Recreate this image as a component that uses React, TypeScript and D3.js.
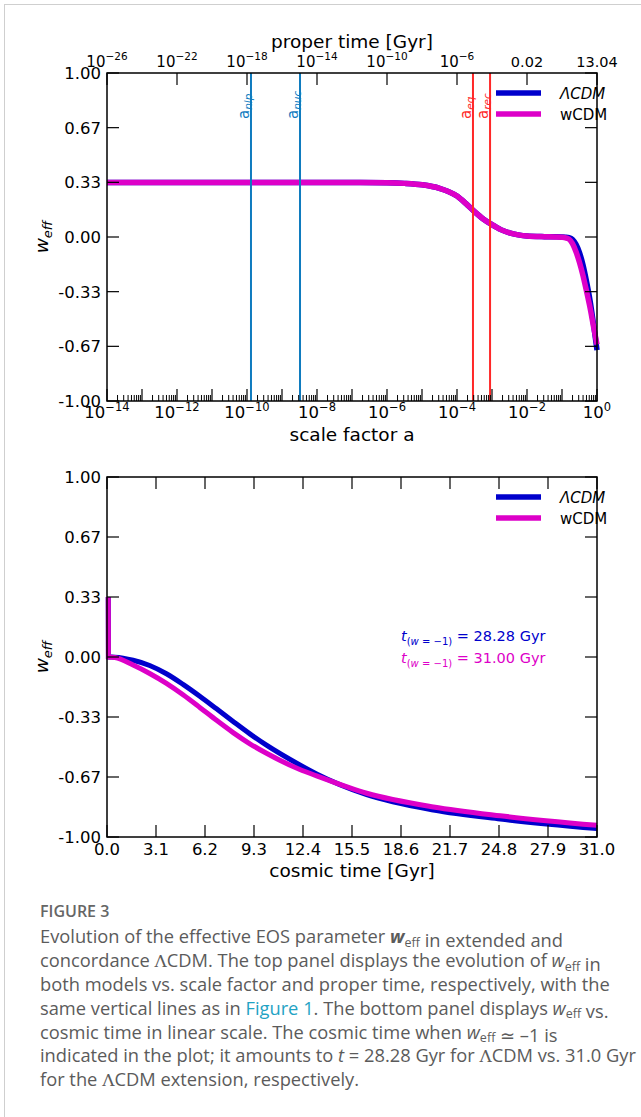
import React from "react";
import * as d3 from "d3";

// ---------------- data ----------------
// top panel: log10(scale factor) vs w_eff
const logA = [-14, -10, -7, -6, -5.5, -5, -4.5, -4.25, -4, -3.75, -3.5, -3.25, -3, -2.75, -2.5, -2.25, -2, -1.5, -1.2, -1, -0.9, -0.8, -0.7, -0.6, -0.5, -0.4, -0.3, -0.2, -0.1, 0];
const wLcdmA = [0.333, 0.333, 0.333, 0.331, 0.327, 0.318, 0.297, 0.278, 0.25, 0.205, 0.155, 0.11, 0.075, 0.045, 0.025, 0.013, 0.006, 0.002, 0.001, 0.0, -0.001, -0.004, -0.015, -0.045, -0.095, -0.17, -0.27, -0.385, -0.53, -0.69];
const wWcdmA = [0.333, 0.333, 0.333, 0.331, 0.327, 0.318, 0.297, 0.278, 0.25, 0.205, 0.155, 0.11, 0.075, 0.045, 0.025, 0.013, 0.006, 0.002, 0.0, -0.002, -0.005, -0.013, -0.04, -0.09, -0.155, -0.235, -0.33, -0.43, -0.545, -0.655];

// bottom panel: cosmic time [Gyr] vs w_eff
const tGyr = [0.08, 0.09, 0.5, 1.65, 2.7, 3.76, 4.81, 5.87, 6.93, 7.98, 9.04, 10.09, 12.2, 13.26, 16.43, 20.65, 24.88, 31.0];
const wLcdmT = [0.333, 0.0, -0.001, -0.018, -0.047, -0.093, -0.152, -0.218, -0.288, -0.358, -0.427, -0.49, -0.6, -0.65, -0.765, -0.85, -0.9, -0.953];
const wWcdmT = [0.333, 0.0, -0.003, -0.045, -0.092, -0.147, -0.21, -0.28, -0.352, -0.42, -0.482, -0.535, -0.625, -0.66, -0.757, -0.833, -0.882, -0.935];

// ticks
const yTickValues = [1, 2 / 3, 1 / 3, 0, -1 / 3, -2 / 3, -1];
const yTickLabels = ["1.00", "0.67", "0.33", "0.00", "-0.33", "-0.67", "-1.00"];
const aLabelExps = [-14, -12, -10, -8, -6, -4, -2, 0];
const aLabelTexts = ["\u221214", "\u221212", "\u221210", "\u22128", "\u22126", "\u22124", "\u22122", "0"];
const properTimeBase = ["10", "10", "10", "10", "10", "10", "0.02", "13.04"];
const properTimeExp = ["\u221226", "\u221222", "\u221218", "\u221214", "\u221210", "\u22126", "", ""];
const tTickValues = [0, 3.1, 6.2, 9.3, 12.4, 15.5, 18.6, 21.7, 24.8, 27.9, 31.0];
const tTickLabels = ["0.0", "3.1", "6.2", "9.3", "12.4", "15.5", "18.6", "21.7", "24.8", "27.9", "31.0"];

// vertical reference lines (scale factor)
const vLineNames = ["nlp", "nuc", "eq", "rec"];
const vLineA = [1.3e-10, 3.27e-9, 2.86e-4, 8.8e-4];
const vLineColors = ["#0f7bbf", "#0f7bbf", "#ff2828", "#ff2828"];

const seriesNames = ["\u039BCDM", "wCDM"];
const seriesColors = ["#0000cc", "#dd00c8"];
const annotTexts = ["28.28", "31.00"];

// ---------------- layout ----------------
const W = 641;
const H = 1117;
const X0 = 107;
const X1 = 597;
const TOP = { y0: 73, y1: 401 };
const BOT = { y0: 477, y1: 837 };
const FONT = "DejaVu Sans, sans-serif";
const TICK_FS = 16.5;
const EXP_FS = 11.5;

function YAxes({ y, major }: { y: d3.ScaleLinear<number, number>; major: number }) {
  return (
    <g>
      {yTickValues.map((v, i) => (
        <g key={i}>
          <line x1={X0} x2={X0 + major} y1={y(v)} y2={y(v)} stroke="#000" strokeWidth={1.2} />
          <line x1={X1} x2={X1 - major} y1={y(v)} y2={y(v)} stroke="#000" strokeWidth={1.2} />
          <text x={X0 - 6} y={y(v)} dy="0.36em" textAnchor="end" fontFamily={FONT} fontSize={TICK_FS}>
            {yTickLabels[i]}
          </text>
        </g>
      ))}
    </g>
  );
}

function WLabel({ cy }: { cy: number }) {
  return (
    <text transform={`translate(48,${cy}) rotate(-90)`} textAnchor="middle" fontFamily={FONT} fontSize={18.5} fontStyle="italic">
      w<tspan fontSize={13} dy={4}>eff</tspan>
    </text>
  );
}

export default function App() {
  const xA = d3.scaleLog().domain([1e-14, 1]).range([X0, X1]);
  const yTop = d3.scaleLinear().domain([-1, 1]).range([TOP.y1, TOP.y0]);
  const xT = d3.scaleLinear().domain([0, 31]).range([X0, X1]);
  const yBot = d3.scaleLinear().domain([-1, 1]).range([BOT.y1, BOT.y0]);

  const lineTop = d3
    .line<[number, number]>()
    .x((d) => xA(Math.pow(10, d[0])))
    .y((d) => yTop(d[1]))
    .curve(d3.curveMonotoneX);
  const lineBot = d3
    .line<[number, number]>()
    .x((d) => xT(d[0]))
    .y((d) => yBot(d[1]))
    .curve(d3.curveMonotoneX);

  const topSeries = [wLcdmA, wWcdmA].map((ws) => logA.map((a, i) => [a, ws[i]] as [number, number]));
  const botSeries = [wLcdmT, wWcdmT].map((ws) => tGyr.map((t, i) => [t, ws[i]] as [number, number]));

  // minor log ticks
  const minorTicks: number[] = [];
  for (let e = -14; e < 0; e++) {
    for (let k = 2; k <= 9; k++) minorTicks.push(k * Math.pow(10, e));
  }
  const decadeTicks = d3.range(-14, 1).map((e) => Math.pow(10, e));

  const capFS = 18.3;
  const capColor = "#5b5b5b";
  const capFont = "'Open Sans', Lato, sans-serif";
  const capX = 40;
  const capY = [943, 967, 991, 1014.5, 1038.5, 1062, 1086];
  const Weff = ({ bold }: { bold?: boolean }) => (
    <>
      <tspan fontStyle="italic" fontWeight={bold ? 700 : 400}>w</tspan>
      <tspan fontSize={12.5} dy={3.5}>eff</tspan>
      <tspan dy={-3.5}></tspan>
    </>
  );
  const Lam = () => (
    <tspan fontFamily="'DejaVu Serif', serif" fontSize={17}>Λ</tspan>
  );

  return (
    <svg width={W} height={H} style={{ position: "absolute", left: 0, top: 0, background: "#fff" }}>
      <rect x={0} y={0} width={W} height={H} fill="#fff" />
      <rect x={4.5} y={4.5} width={W + 20} height={H + 20} fill="none" stroke="#cfcfcf" strokeWidth={1} />

      {/* ================= TOP PANEL ================= */}
      <g>
        {topSeries.map((s, i) => (
          <path key={i} d={lineTop(s) || ""} fill="none" stroke={seriesColors[i]} strokeWidth={5.5} />
        ))}
        {vLineA.map((a, i) => (
          <g key={i}>
            <line x1={xA(a)} x2={xA(a)} y1={TOP.y0} y2={TOP.y1} stroke={vLineColors[i]} strokeWidth={2} />
            <text
              transform={`translate(${xA(a) - 2},119) rotate(-90)`}
              fontFamily={FONT}
              fontSize={15}
              fill={vLineColors[i]}
            >
              a<tspan fontSize={10.5} fontStyle="italic" dy={3}>{vLineNames[i]}</tspan>
            </text>
          </g>
        ))}
        <rect x={X0} y={TOP.y0} width={X1 - X0} height={TOP.y1 - TOP.y0} fill="none" stroke="#000" strokeWidth={1.5} />
        <YAxes y={yTop} major={12} />
        {/* bottom log ticks */}
        {decadeTicks.map((v, i) => (
          <line key={"d" + i} x1={xA(v)} x2={xA(v)} y1={TOP.y1} y2={TOP.y1 - 12} stroke="#000" strokeWidth={1.2} />
        ))}
        {minorTicks.map((v, i) => (
          <line key={"m" + i} x1={xA(v)} x2={xA(v)} y1={TOP.y1} y2={TOP.y1 - 6} stroke="#000" strokeWidth={1} />
        ))}
        {aLabelExps.map((e, i) => (
          <text key={i} x={xA(Math.pow(10, e))} y={418} textAnchor="middle" fontFamily={FONT} fontSize={TICK_FS}>
            10<tspan fontSize={EXP_FS} dy={-7}>{aLabelTexts[i]}</tspan>
          </text>
        ))}
        <text x={(X0 + X1) / 2} y={441} textAnchor="middle" fontFamily={FONT} fontSize={18.5}>
          scale factor a
        </text>
        {/* top axis: proper time */}
        {aLabelExps.map((e, i) => (
          <g key={i}>
            <line x1={xA(Math.pow(10, e))} x2={xA(Math.pow(10, e))} y1={TOP.y0} y2={TOP.y0 + 12} stroke="#000" strokeWidth={1.2} />
            <text x={xA(Math.pow(10, e))} y={67} textAnchor="middle" fontFamily={FONT} fontSize={properTimeExp[i] ? 15 : 14.5}>
              {properTimeBase[i]}
              {properTimeExp[i] ? (
                <tspan fontSize={10.5} dy={-7}>{properTimeExp[i]}</tspan>
              ) : null}
            </text>
          </g>
        ))}
        <text x={(X0 + X1) / 2} y={48} textAnchor="middle" fontFamily={FONT} fontSize={18.5}>
          proper time [Gyr]
        </text>
        <WLabel cy={(TOP.y0 + TOP.y1) / 2} />
        {/* legend */}
        {seriesNames.map((n, i) => (
          <g key={i}>
            <line x1={496} x2={541} y1={93 + i * 21} y2={93 + i * 21} stroke={seriesColors[i]} strokeWidth={5.5} />
            <text x={560} y={98.5 + i * 21} fontFamily={FONT} fontSize={15} fontStyle={i === 0 ? "italic" : "normal"}>
              {n}
            </text>
          </g>
        ))}
      </g>

      {/* ================= BOTTOM PANEL ================= */}
      <g>
        {botSeries.map((s, i) => (
          <path key={i} d={lineBot(s) || ""} fill="none" stroke={seriesColors[i]} strokeWidth={5} />
        ))}
        <rect x={X0} y={BOT.y0} width={X1 - X0} height={BOT.y1 - BOT.y0} fill="none" stroke="#000" strokeWidth={1.5} />
        <YAxes y={yBot} major={12} />
        {tTickValues.map((v, i) => (
          <g key={i}>
            <line x1={xT(v)} x2={xT(v)} y1={BOT.y1} y2={BOT.y1 - 12} stroke="#000" strokeWidth={1.2} />
            <line x1={xT(v)} x2={xT(v)} y1={BOT.y0} y2={BOT.y0 + 12} stroke="#000" strokeWidth={1.2} />
            <text x={xT(v)} y={855} textAnchor="middle" fontFamily={FONT} fontSize={TICK_FS}>
              {tTickLabels[i]}
            </text>
          </g>
        ))}
        <text x={(X0 + X1) / 2} y={877} textAnchor="middle" fontFamily={FONT} fontSize={18.5}>
          cosmic time [Gyr]
        </text>
        <WLabel cy={(BOT.y0 + BOT.y1) / 2} />
        {seriesNames.map((n, i) => (
          <g key={i}>
            <line x1={496} x2={541} y1={497 + i * 21} y2={497 + i * 21} stroke={seriesColors[i]} strokeWidth={5.5} />
            <text x={560} y={502.5 + i * 21} fontFamily={FONT} fontSize={15} fontStyle={i === 0 ? "italic" : "normal"}>
              {n}
            </text>
          </g>
        ))}
        {annotTexts.map((t, i) => (
          <text key={i} x={401} y={641 + i * 22} fontFamily={FONT} fontSize={14.5} fill={seriesColors[i]}>
            <tspan fontStyle="italic">t</tspan>
            <tspan fontSize={10} dy={4}>(</tspan>
            <tspan fontSize={10} fontStyle="italic">w</tspan>
            <tspan fontSize={10}>{" = \u22121)"}</tspan>
            <tspan dy={-4}>{` = ${t} Gyr`}</tspan>
          </text>
        ))}
      </g>

      {/* ================= CAPTION ================= */}
      <text x={capX} y={917} fontFamily={capFont} fontSize={16} fontWeight={600} fill="#666">
        FIGURE 3
      </text>
      <g fontFamily={capFont} fontSize={capFS} fill={capColor}>
        <text x={capX} y={capY[0]}>
          Evolution of the effective EOS parameter <Weff bold /> in extended and
        </text>
        <text x={capX} y={capY[1]}>
          concordance <Lam />CDM. The top panel displays the evolution of <Weff /> in
        </text>
        <text x={capX} y={capY[2]}>
          both models vs. scale factor and proper time, respectively, with the
        </text>
        <text x={capX} y={capY[3]}>
          same vertical lines as in <tspan fill="#1fa3c4">Figure 1</tspan>. The bottom panel displays <Weff /> vs.
        </text>
        <text x={capX} y={capY[4]}>
          cosmic time in linear scale. The cosmic time when <Weff /> ≃ –1 is
        </text>
        <text x={capX} y={capY[5]}>
          indicated in the plot; it amounts to <tspan fontStyle="italic">t</tspan> = 28.28 Gyr for <Lam />CDM vs. 31.0 Gyr
        </text>
        <text x={capX} y={capY[6]}>
          for the <Lam />CDM extension, respectively.
        </text>
      </g>
    </svg>
  );
}
